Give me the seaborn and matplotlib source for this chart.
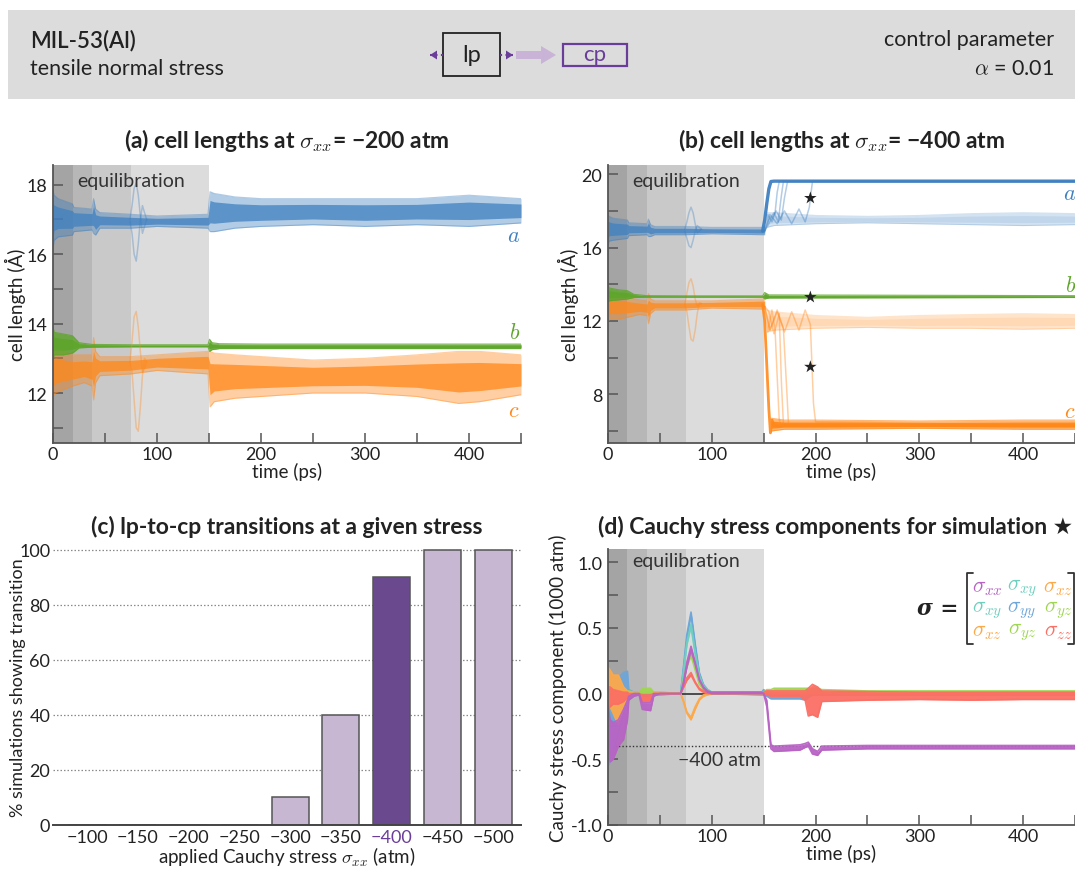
import numpy as np
import matplotlib
matplotlib.use("Agg")
import matplotlib.pyplot as plt
import seaborn as sns
from matplotlib.patches import Rectangle, FancyArrow
from matplotlib.lines import Line2D
from matplotlib.ticker import MultipleLocator, FormatStrFormatter

# ------------------------------------------------------------------ data
EQ_EDGES = [0, 18.75, 37.5, 75, 150]
EQ_GREYS = ['#a4a4a4', '#b7b7b7', '#c9c9c9', '#dcdcdc']

# (a) sigma_xx = -200 atm : envelopes of the 10 overlapping runs
A_A_T  = [0, 1, 5, 18.75, 20, 37.5, 39, 41, 45, 75, 100, 149, 151, 155, 175, 200, 250, 300, 350, 400, 450]
A_A_HI = [17.85, 17.7, 17.6, 17.45, 17.35, 17.3, 17.6, 17.3, 17.2, 17.15, 17.1, 17.15, 17.8, 17.75, 17.65, 17.6, 17.6, 17.6, 17.6, 17.7, 17.6]
A_A_LO = [16.1, 16.4, 16.5, 16.55, 16.65, 16.7, 16.6, 16.55, 16.75, 16.75, 16.8, 16.75, 16.65, 16.65, 16.75, 16.8, 16.85, 16.8, 16.85, 16.8, 16.9]
A_B_T  = [0, 1, 10, 18.75, 25, 37.5, 75, 149, 150.5, 153, 160, 200, 450]
A_B_HI = [13.95, 13.75, 13.7, 13.65, 13.45, 13.4, 13.39, 13.39, 13.55, 13.45, 13.42, 13.41, 13.41]
A_B_LO = [12.95, 13.1, 13.1, 13.15, 13.3, 13.32, 13.33, 13.33, 13.2, 13.25, 13.28, 13.28, 13.28]
A_C_T  = [0, 2, 10, 18.75, 30, 37.5, 39, 41, 45, 75, 100, 149, 151, 155, 175, 200, 250, 300, 350, 390, 410, 450]
A_C_HI = [13.2, 13.3, 13.2, 13.1, 13.1, 13.1, 13.6, 13.2, 13.05, 13.05, 13.1, 13.2, 13.2, 13.15, 13.1, 13.05, 12.95, 13.0, 13.1, 13.2, 13.2, 13.1]
A_C_LO = [11.9, 12.0, 12.1, 12.2, 12.3, 12.2, 11.8, 12.3, 12.5, 12.55, 12.65, 12.55, 11.6, 11.75, 11.85, 11.9, 12.0, 12.0, 11.9, 11.7, 11.75, 11.95]
RING_T    = [74, 76, 78, 80, 82, 84, 86, 88, 90]
A_A_RING1 = [17.0, 17.4, 17.9, 18.05, 17.7, 17.1, 16.6, 16.8, 17.0]
A_A_RING2 = [16.95, 16.6, 16.0, 15.8, 16.3, 17.0, 17.4, 17.2, 17.0]
A_C_RING1 = [12.9, 13.5, 14.2, 14.35, 13.9, 13.2, 12.6, 12.7, 12.9]
A_C_RING2 = [12.9, 12.6, 11.8, 11.0, 10.9, 11.6, 12.5, 13.0, 12.9]

# (b) sigma_xx = -400 atm
B_A_T  = [0, 1, 5, 18.75, 20, 37.5, 39, 41, 45, 75, 100, 149, 151]
B_A_HI = [17.8, 17.7, 17.6, 17.5, 17.35, 17.3, 17.55, 17.25, 17.15, 17.15, 17.1, 17.1, 17.1]
B_A_LO = [16.1, 16.35, 16.4, 16.5, 16.65, 16.7, 16.6, 16.6, 16.7, 16.7, 16.75, 16.7, 16.7]
B_A_RING1 = [17.0, 17.4, 17.9, 18.2, 17.9, 17.3, 16.8, 16.9, 17.0]
B_A_RING2 = [16.9, 16.5, 16.1, 16.0, 16.4, 16.9, 17.2, 17.1, 17.0]
B_A_MAIN_T = [149, 151, 153, 155, 157, 160, 450]
B_A_MAIN_Y = [16.9, 17.5, 18.4, 19.2, 19.6, 19.62, 19.62]
B_A_TR1_T = [151, 154, 158, 161, 163, 165, 450]
B_A_TR1_Y = [16.9, 17.8, 17.4, 17.9, 19.0, 19.6, 19.6]
B_A_TR2_T = [151, 155, 160, 164, 167, 169, 450]
B_A_TR2_Y = [16.9, 17.5, 17.9, 17.4, 18.8, 19.6, 19.6]
B_A_TR3_T = [151, 156, 162, 167, 170, 173, 450]
B_A_TR3_Y = [16.9, 17.4, 18.0, 17.5, 18.7, 19.6, 19.6]
B_A_STAR_T = [151, 156, 163, 170, 177, 184, 190, 194, 197, 450]
B_A_STAR_Y = [16.9, 17.8, 17.3, 18.0, 17.3, 18.1, 17.4, 18.2, 19.6, 19.6]
B_A_NEVER_T  = [153, 160, 200, 250, 300, 350, 400, 450]
B_A_NEVER_LO = [17.1, 17.2, 17.3, 17.35, 17.3, 17.25, 17.2, 17.25]
B_A_NEVER_HI = [17.9, 17.9, 17.75, 17.7, 17.75, 17.85, 17.9, 17.85]

B_B_T  = [0, 1, 10, 18.75, 25, 37.5, 75, 149, 151, 155, 450]
B_B_HI = [13.95, 13.8, 13.7, 13.65, 13.45, 13.38, 13.37, 13.37, 13.55, 13.42, 13.38]
B_B_LO = [13.0, 13.1, 13.15, 13.2, 13.28, 13.3, 13.3, 13.3, 13.2, 13.25, 13.28]

B_C_T  = [0, 2, 10, 18.75, 30, 37.5, 39, 41, 45, 75, 100, 149, 151]
B_C_HI = [13.3, 13.5, 13.4, 13.3, 13.15, 13.1, 13.5, 13.2, 13.1, 13.1, 13.1, 13.2, 13.2]
B_C_LO = [12.0, 12.1, 12.1, 12.2, 12.35, 12.3, 11.85, 12.4, 12.6, 12.6, 12.7, 12.65, 12.65]
B_C_RING1 = [12.9, 13.5, 14.1, 14.3, 13.9, 13.2, 12.8, 12.9, 12.95]
B_C_RING2 = [12.9, 12.5, 11.7, 11.0, 10.9, 11.5, 12.4, 13.0, 12.95]
B_C_MAIN_T = [149, 151, 153, 155, 156.5, 158, 160, 450]
B_C_MAIN_Y = [12.9, 12.0, 9.6, 7.2, 5.9, 6.6, 6.3, 6.3]
B_C_BAND_T  = [157, 170, 200, 300, 400, 450]
B_C_BAND_LO = [6.0, 6.1, 6.1, 6.15, 6.1, 6.1]
B_C_BAND_HI = [6.7, 6.6, 6.6, 6.55, 6.6, 6.6]
B_C_TR1_T = [151, 154, 158, 161, 163, 165, 167, 450]
B_C_TR1_Y = [12.8, 11.4, 12.6, 11.5, 9.0, 6.6, 6.3, 6.3]
B_C_TR2_T = [151, 155, 160, 165, 167, 169, 450]
B_C_TR2_Y = [12.8, 12.5, 11.3, 12.4, 8.8, 6.4, 6.3]
B_C_TR3_T = [151, 156, 163, 169, 172, 174, 450]
B_C_TR3_Y = [12.8, 11.5, 12.5, 11.6, 8.5, 6.3, 6.3]
B_C_STAR_T = [151, 156, 163, 170, 177, 184, 190, 195, 198, 200, 450]
B_C_STAR_Y = [12.8, 11.5, 12.6, 11.4, 12.5, 11.5, 12.6, 11.8, 7.5, 6.5, 6.3]
B_C_NEVER_T  = [153, 160, 200, 250, 300, 350, 400, 450]
B_C_NEVER_LO = [11.4, 11.5, 11.6, 11.65, 11.6, 11.6, 11.55, 11.6]
B_C_NEVER_HI = [12.6, 12.5, 12.3, 12.2, 12.3, 12.35, 12.4, 12.35]
STAR_T = 195
STAR_Y = [18.7, 13.3, 9.5]

# (c) transition statistics
STRESS_CATS = ['−100', '−150', '−200', '−250', '−300', '−350', '−400', '−450', '−500']
PCT_TRANSITION = [0, 0, 0, 0, 10, 40, 90, 100, 100]

# (d) Cauchy stress components (1000 atm) for starred run: lower/upper envelopes
D_T = [0, 2, 5, 10, 15, 18.75, 20, 25, 30, 33, 41, 44, 50, 70, 73, 76, 80, 84, 88, 92, 96, 100,
       148, 150, 153, 157, 160, 185, 190, 193, 197, 202, 206, 250, 300, 350, 400, 450]
XX_LO = [-0.35, -0.52, -0.5, -0.4, -0.35, -0.2, -0.05, -0.02, -0.01, -0.12, -0.13, -0.02, 0, 0, 0.08, 0.2, 0.33, 0.22, 0.1, 0.04, 0.01, 0,
         0, 0, -0.1, -0.42, -0.44, -0.43, -0.41, -0.4, -0.46, -0.47, -0.43, -0.42, -0.42, -0.42, -0.42, -0.42]
XX_HI = [-0.1, -0.2, -0.22, -0.2, -0.12, -0.05, -0.02, 0, 0, -0.07, -0.07, 0, 0, 0, 0.1, 0.24, 0.36, 0.24, 0.11, 0.05, 0.02, 0.01,
         0.01, 0, -0.05, -0.39, -0.4, -0.39, -0.38, -0.37, -0.42, -0.44, -0.4, -0.395, -0.395, -0.395, -0.395, -0.395]
YY_LO = [-0.55, -0.52, -0.45, -0.3, -0.15, -0.05, -0.02, -0.01, -0.01, -0.03, -0.03, -0.01, -0.01, 0, 0.2, 0.42, 0.6, 0.36, 0.15, 0.06, 0.02, 0,
         -0.01, -0.01, -0.02, -0.04, -0.04, -0.04, -0.05, -0.03, -0.01, -0.01, -0.01, -0.01, -0.01, -0.01, -0.01, -0.01]
YY_HI = [0, 0.06, 0.1, 0.12, 0.16, 0.17, 0.03, 0.01, 0.01, 0, 0, 0, 0, 0, 0.22, 0.45, 0.62, 0.38, 0.16, 0.07, 0.03, 0.01,
         0.01, 0.03, 0.01, 0, 0, 0, 0, 0.01, 0.01, 0.01, 0.01, 0.01, 0.01, 0.01, 0.01, 0.01]
XY_LO = [-0.05, -0.1, -0.1, -0.05, -0.03, -0.02, -0.01, 0, 0, 0, 0, 0, 0, 0, 0.17, 0.37, 0.51, 0.3, 0.13, 0.05, 0.02, 0,
         0, 0, 0, 0, 0, 0, 0, 0, 0, 0, 0, 0, 0, 0, 0, 0]
XY_HI = [0.02, 0.02, 0.02, 0.02, 0.01, 0.01, 0.01, 0.01, 0.01, 0.01, 0.01, 0.01, 0.01, 0, 0.18, 0.39, 0.53, 0.32, 0.14, 0.06, 0.03, 0.01,
         0.01, 0.01, 0.01, 0.01, 0.01, 0.01, 0.01, 0.02, 0.02, 0.02, 0.01, 0.01, 0.01, 0.01, 0.01, 0.01]
XZ_LO = [-0.1, -0.1, -0.15, -0.24, -0.1, -0.03, -0.01, 0, 0, -0.06, -0.06, 0, 0, 0, -0.07, -0.15, -0.2, -0.12, -0.05, -0.02, -0.01, 0,
         0, 0, 0, 0, 0, 0, 0, 0, 0, 0, 0, 0, 0, 0, 0, 0]
XZ_HI = [0.2, 0.18, 0.14, 0.14, 0.05, 0.02, 0.01, 0, 0, -0.03, -0.03, 0.01, 0, 0, -0.06, -0.14, -0.18, -0.1, -0.04, -0.01, 0, 0.01,
         0.01, 0.01, 0.02, 0.01, 0.01, 0.01, 0.01, 0.01, 0.01, 0.01, 0.01, 0.01, 0.01, 0.01, 0.01, 0.01]
YZ_LO = [0, 0, 0, 0, 0, 0, 0, 0, 0, 0.01, 0.01, 0, 0, 0, 0.1, 0.2, 0.29, 0.18, 0.07, 0.03, 0.01, 0,
         0, 0, 0, 0, 0, 0, 0, 0, 0, 0, 0, 0, 0, 0, 0, 0]
YZ_HI = [0.02, 0.02, 0.02, 0.02, 0.02, 0.02, 0.02, 0.01, 0.01, 0.04, 0.04, 0.01, 0.01, 0, 0.11, 0.22, 0.31, 0.2, 0.08, 0.04, 0.02, 0.01,
         0.01, 0.01, 0.03, 0.03, 0.04, 0.04, 0.04, 0.04, 0.04, 0.04, 0.03, 0.02, 0.02, 0.02, 0.02, 0.02]
ZZ_LO = [-0.12, -0.1, -0.08, -0.08, -0.06, -0.03, -0.02, -0.01, -0.01, -0.06, -0.06, -0.01, 0, 0, 0.05, 0.1, 0.14, 0.08, 0.03, 0.01, 0, 0,
         0, 0, -0.01, -0.02, -0.02, -0.02, -0.05, -0.17, -0.16, -0.18, -0.06, -0.05, -0.045, -0.05, -0.045, -0.045]
ZZ_HI = [0.05, 0.05, 0.03, 0.02, 0.01, 0.01, 0, 0, 0, -0.01, -0.01, 0, 0, 0, 0.06, 0.12, 0.16, 0.09, 0.04, 0.02, 0.01, 0.01,
         0.01, 0.01, 0.02, 0.02, 0.02, 0.02, 0.02, 0.04, 0.07, 0.05, 0.02, 0.015, 0.01, 0.01, 0.01, 0.01]
TARGET_STRESS = -0.4

# ------------------------------------------------------------------ style
BLUE, GREEN, ORANGE = '#3f80c0', '#5ea62b', '#ff881a'
COMP_COLORS = {'xx': '#b864c4', 'xy': '#6fcfbf', 'xz': '#fca94a',
               'yy': '#6ea6d8', 'yz': '#9fd652', 'zz': '#fb6f64'}
PURPLE_DARK, PURPLE_LIGHT = '#6a3d9a', '#c9b3d7'
SPINE = '#555555'
TXT = '#222222'
TITLE_FS, LABEL_FS, TICK_FS = 16.5, 13.5, 13

sns.set_theme(style="ticks")
plt.rcParams['font.family'] = ['Lato', 'DejaVu Sans']
plt.rcParams['mathtext.fontset'] = 'cm'
plt.rcParams['text.color'] = TXT
plt.rcParams['axes.labelcolor'] = TXT

W, H = 1075, 870
fig = plt.figure(figsize=(W / 100, H / 100), dpi=100)


def fx(x):
    return x / W


def fy(y):
    return 1 - y / H


def axrect(l, r, t, b):
    return [l / W, 1 - b / H, (r - l) / W, (b - t) / H]


def line(ax, t, y, color, lw=1.0, alpha=1.0, z=3):
    sns.lineplot(x=np.asarray(t, float), y=np.asarray(y, float), ax=ax, color=color, lw=lw,
                 alpha=alpha, estimator=None, sort=False, zorder=z)


def band(ax, t, lo, hi, color, alpha=0.4, core=0.75, z=3, edge_lw=0.8):
    t = np.asarray(t, float)
    lo = np.asarray(lo, float)
    hi = np.asarray(hi, float)
    ax.fill_between(t, lo, hi, color=color, alpha=alpha, lw=0, zorder=z)
    if core:
        q = (hi - lo) * 0.22
        ax.fill_between(t, lo + q, hi - q, color=color, alpha=core, lw=0, zorder=z)
    line(ax, t, lo, color, lw=edge_lw, alpha=alpha, z=z)
    line(ax, t, hi, color, lw=edge_lw, alpha=alpha, z=z)


def style_time_axis(ax, ylim, major, minor, eq_y):
    for i in range(4):
        ax.axvspan(EQ_EDGES[i], EQ_EDGES[i + 1], color=EQ_GREYS[i], lw=0, zorder=0)
    ax.text(75, eq_y, 'equilibration', transform=ax.get_xaxis_transform(), ha='center',
            va='center', fontsize=14, color='#333333', zorder=6)
    ax.set_xlim(0, 450)
    ax.set_ylim(*ylim)
    ax.xaxis.set_major_locator(MultipleLocator(100))
    ax.xaxis.set_minor_locator(MultipleLocator(50))
    ax.yaxis.set_major_locator(MultipleLocator(major))
    ax.yaxis.set_minor_locator(MultipleLocator(minor))
    ax.tick_params(which='both', direction='in', length=7, width=1.1, color=SPINE,
                   labelsize=TICK_FS, labelcolor=TXT, pad=4)
    ax.tick_params(axis='x', which='both', pad=2)
    sns.despine(ax=ax)
    for s in ['left', 'bottom']:
        ax.spines[s].set_color(SPINE)
        ax.spines[s].set_linewidth(1.3)
        ax.spines[s].set_zorder(7)
    ax.set_xlabel('time (ps)', fontsize=LABEL_FS, labelpad=0)
    ax.set_facecolor('white')


# ------------------------------------------------------------------ header
fig.add_artist(Rectangle((fx(8), fy(100)), fx(1075) - fx(8), fy(11) - fy(100),
                         transform=fig.transFigure, color='#dcdcdc', lw=0, zorder=0))
fig.text(fx(30), fy(41), 'MIL-53(Al)', fontsize=16, fontweight='semibold', va='center', ha='left')
fig.text(fx(30), fy(69), 'tensile normal stress', fontsize=15.5, va='center', ha='left')
fig.text(fx(1054), fy(40), 'control parameter', fontsize=15.5, va='center', ha='right')
fig.text(fx(1054), fy(69), r'$\alpha$ = 0.01', fontsize=15.5, va='center', ha='right')
fig.add_artist(Rectangle((fx(443), fy(77)), fx(500) - fx(443), fy(34) - fy(77),
                         transform=fig.transFigure, fill=False, ec='#222222', lw=1.3))
fig.text(fx(471.5), fy(55), 'lp', fontsize=17, va='center', ha='center')
fig.add_artist(Rectangle((fx(563), fy(67)), fx(627) - fx(563), fy(45) - fy(67),
                         transform=fig.transFigure, fill=False, ec=PURPLE_DARK, lw=1.6))
fig.text(fx(595), fy(55), 'cp', fontsize=16, va='center', ha='center', color=PURPLE_DARK)
fig.add_artist(FancyArrow(fx(516), fy(56), fx(556) - fx(516), 0, width=8 / H, head_width=18 / H,
                          head_length=15 / W, length_includes_head=True,
                          transform=fig.transFigure, color=PURPLE_LIGHT, lw=0))
for x0, x1 in [(443, 430), (500, 513)]:
    fig.add_artist(Line2D([fx(x0), fx(x1)], [fy(56), fy(56)], ls=':', lw=1.5, color=PURPLE_DARK,
                          transform=fig.transFigure))
    fig.add_artist(FancyArrow(fx(x0 + (x1 - x0) * 0.4), fy(56), (fx(x1) - fx(x0)) * 0.6, 0,
                              width=0.0001, head_width=9 / H, head_length=7 / W,
                              length_includes_head=True, transform=fig.transFigure,
                              color=PURPLE_DARK, lw=0))

# ------------------------------------------------------------------ (a)
ax_a = fig.add_axes(axrect(53, 521, 166, 444))
style_time_axis(ax_a, (10.56, 18.57), 2, 1, 0.946)
band(ax_a, A_C_T, A_C_LO, A_C_HI, ORANGE)
band(ax_a, A_A_T, A_A_LO, A_A_HI, BLUE)
band(ax_a, A_B_T, A_B_LO, A_B_HI, GREEN, alpha=0.8, core=0.9)
for r, c in [(A_A_RING1, BLUE), (A_A_RING2, BLUE), (A_C_RING1, ORANGE), (A_C_RING2, ORANGE)]:
    line(ax_a, RING_T, r, c, lw=1.1, alpha=0.35)
ax_a.set_ylabel('cell length (Å)', fontsize=LABEL_FS)
ax_a.yaxis.set_label_coords(-0.058, 0.5)
ax_a.set_title(r'(a) cell lengths at $\sigma_{xx}$= −200 atm', fontsize=TITLE_FS, fontweight='bold', pad=13)
for txt, y, c in [('a', 16.55, BLUE), ('b', 13.75, GREEN), ('c', 11.5, ORANGE)]:
    ax_a.text(449, y, '$' + txt + '$', color=c, fontsize=16, ha='right', va='center', zorder=6)

# ------------------------------------------------------------------ (b)
ax_b = fig.add_axes(axrect(608, 1075, 166, 444))
style_time_axis(ax_b, (5.35, 20.5), 4, 2, 0.946)
band(ax_b, B_C_T, B_C_LO, B_C_HI, ORANGE)
band(ax_b, B_A_T, B_A_LO, B_A_HI, BLUE)
for r, c in [(B_A_RING1, BLUE), (B_A_RING2, BLUE), (B_C_RING1, ORANGE), (B_C_RING2, ORANGE)]:
    line(ax_b, RING_T, r, c, lw=1.1, alpha=0.35)
band(ax_b, B_A_NEVER_T, B_A_NEVER_LO, B_A_NEVER_HI, BLUE, alpha=0.22, core=0.12)
band(ax_b, B_C_NEVER_T, B_C_NEVER_LO, B_C_NEVER_HI, ORANGE, alpha=0.22, core=0.12)
for t, y in [(B_A_TR1_T, B_A_TR1_Y), (B_A_TR2_T, B_A_TR2_Y), (B_A_TR3_T, B_A_TR3_Y), (B_A_STAR_T, B_A_STAR_Y)]:
    line(ax_b, t, y, BLUE, lw=1.1, alpha=0.4)
for t, y in [(B_C_TR1_T, B_C_TR1_Y), (B_C_TR2_T, B_C_TR2_Y), (B_C_TR3_T, B_C_TR3_Y), (B_C_STAR_T, B_C_STAR_Y)]:
    line(ax_b, t, y, ORANGE, lw=1.1, alpha=0.4)
line(ax_b, B_A_MAIN_T, B_A_MAIN_Y, BLUE, lw=2.4, alpha=0.95)
line(ax_b, B_C_MAIN_T, B_C_MAIN_Y, ORANGE, lw=2.0, alpha=0.9)
band(ax_b, B_C_BAND_T, B_C_BAND_LO, B_C_BAND_HI, ORANGE, alpha=0.6, core=0.9)
band(ax_b, B_B_T, B_B_LO, B_B_HI, GREEN, alpha=0.8, core=0.9)
sns.scatterplot(x=[STAR_T] * 3, y=STAR_Y, ax=ax_b, marker='*', s=90, color='#222222',
                edgecolor='none', zorder=8)
ax_b.set_ylabel('cell length (Å)', fontsize=LABEL_FS)
ax_b.yaxis.set_label_coords(-0.062, 0.5)
ax_b.set_title(r'(b) cell lengths at $\sigma_{xx}$= −400 atm', fontsize=TITLE_FS, fontweight='bold', pad=13)
for txt, y, c in [('a', 19.0, BLUE), ('b', 13.95, GREEN), ('c', 7.1, ORANGE)]:
    ax_b.text(451, y, '$' + txt + '$', color=c, fontsize=16, ha='right', va='center', zorder=6)

# ------------------------------------------------------------------ (c)
ax_c = fig.add_axes(axrect(53, 521, 549, 826))
bar_pal = {c: (PURPLE_DARK if c == '−400' else PURPLE_LIGHT) for c in STRESS_CATS}
sns.barplot(x=STRESS_CATS, y=PCT_TRANSITION, hue=STRESS_CATS, palette=bar_pal, order=STRESS_CATS,
            hue_order=STRESS_CATS, legend=False, width=0.73, edgecolor='#555555', linewidth=1.1,
            ax=ax_c, zorder=3)
ax_c.set_xlim(-0.67, 8.55)
ax_c.set_ylim(0, 100.6)
ax_c.yaxis.set_major_locator(MultipleLocator(20))
ax_c.yaxis.grid(True, ls=(0, (1.2, 1.6)), color='#8a8a8a', lw=0.9, zorder=0)
ax_c.set_axisbelow(True)
sns.despine(ax=ax_c, left=True)
ax_c.spines['bottom'].set_color('#444444')
ax_c.spines['bottom'].set_linewidth(1.4)
ax_c.spines['bottom'].set_zorder(5)
ax_c.tick_params(axis='y', left=False, length=0, labelsize=TICK_FS, labelcolor=TXT, pad=2)
ax_c.tick_params(axis='x', bottom=False, length=0, labelsize=TICK_FS, labelcolor=TXT, pad=3)
for lab in ax_c.get_xticklabels():
    if lab.get_text() == '−400':
        lab.set_color(PURPLE_DARK)
ax_c.set_xlabel(r'applied Cauchy stress $\sigma_{xx}$ (atm)', fontsize=LABEL_FS, labelpad=0)
ax_c.set_ylabel('% simulations showing transition', fontsize=13)
ax_c.yaxis.set_label_coords(-0.058, 0.5)
ax_c.set_title('(c) lp-to-cp transitions at a given stress', fontsize=TITLE_FS, fontweight='bold', pad=11)

# ------------------------------------------------------------------ (d)
ax_d = fig.add_axes(axrect(608, 1075, 550, 826))
style_time_axis(ax_d, (-1.0, 1.1), 0.5, 0.25, 0.957)
ax_d.yaxis.set_major_formatter(FormatStrFormatter('%.1f'))
ax_d.axhline(0, color='#333333', lw=1.2, zorder=2)
ax_d.axhline(TARGET_STRESS, color='#333333', lw=1.0, ls=(0, (1, 1.5)), zorder=2)
ax_d.text(147, TARGET_STRESS - 0.035, '−400 atm', ha='right', va='top', fontsize=14,
          color='#333333', zorder=6)
for key, lo, hi in [('yy', YY_LO, YY_HI), ('xy', XY_LO, XY_HI), ('yz', YZ_LO, YZ_HI),
                    ('xz', XZ_LO, XZ_HI), ('zz', ZZ_LO, ZZ_HI), ('xx', XX_LO, XX_HI)]:
    band(ax_d, D_T, lo, hi, COMP_COLORS[key], alpha=0.95, core=0, edge_lw=1.2)
ax_d.set_ylabel('Cauchy stress component (1000 atm)', fontsize=LABEL_FS)
ax_d.yaxis.set_label_coords(-0.088, 0.5)
fig.text(fx(1073), fy(527), '(d) Cauchy stress components for simulation ★', fontsize=TITLE_FS,
         fontweight='bold', ha='right', va='center')

# matrix legend
MAT_KEYS = [['xx', 'xy', 'xz'], ['xy', 'yy', 'yz'], ['xz', 'yz', 'zz']]
COL_X = [987, 1022, 1058]
ROW_Y = [588, 610, 632]
for i, row in enumerate(MAT_KEYS):
    for j, k in enumerate(row):
        fig.text(fx(COL_X[j]), fy(ROW_Y[i]), r'$\sigma_{' + k + '}$', color=COMP_COLORS[k],
                 fontsize=15.5, ha='center', va='center')
fig.text(fx(958), fy(609), 'σ =', family='DejaVu Serif', fontweight='bold', style='italic',
         fontsize=15.5, ha='right', va='center', color='#222222')
for xb, d in [(967, 6), (1074, -6)]:
    fig.add_artist(Line2D([fx(xb + d), fx(xb), fx(xb), fx(xb + d)], [fy(574), fy(574), fy(645), fy(645)],
                          color='#333333', lw=1.3, transform=fig.transFigure))

fig.savefig('out.png', dpi=100)
